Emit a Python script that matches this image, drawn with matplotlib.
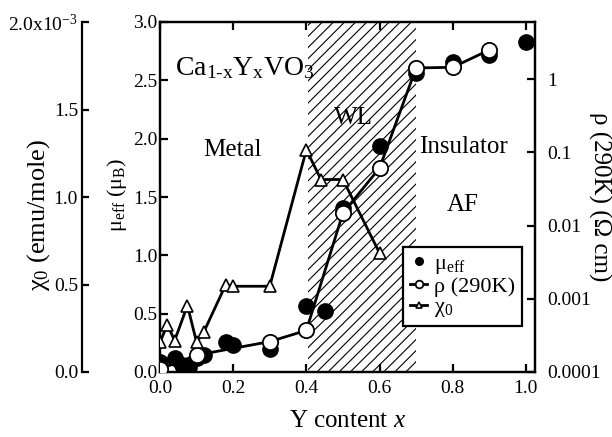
import matplotlib
matplotlib.use("Agg")
import matplotlib.pyplot as plt

# ---------------- data ----------------
# mu_eff (filled circles, left inner axis, mu_B)
mu_x = [0.0, 0.04, 0.06, 0.08, 0.10, 0.12, 0.18, 0.20, 0.30, 0.40, 0.45, 0.50, 0.60, 0.70, 0.80, 0.90, 1.00]
mu_y = [0.09, 0.12, 0.06, 0.04, 0.12, 0.15, 0.26, 0.23, 0.20, 0.57, 0.52, 1.41, 1.94, 2.56, 2.66, 2.72, 2.83]

# rho(290K) (open circles, right log axis, Ohm cm)
rho_x = [0.0, 0.10, 0.30, 0.40, 0.50, 0.60, 0.70, 0.80, 0.90]
rho_y = [1.1e-4, 1.7e-4, 2.6e-4, 3.7e-4, 0.0148, 0.061, 1.42, 1.45, 2.5]

# chi0 (open triangles, outer left axis, emu/mole)
chi_x = [0.0, 0.02, 0.04, 0.075, 0.10, 0.12, 0.18, 0.20, 0.30, 0.40, 0.44, 0.50, 0.60]
chi_y = [0.17e-3, 0.27e-3, 0.18e-3, 0.38e-3, 0.17e-3, 0.23e-3, 0.50e-3, 0.49e-3, 0.49e-3,
         1.27e-3, 1.10e-3, 1.10e-3, 0.68e-3]

WL_RANGE = (0.405, 0.70)        # hatched weakly-localized region

x_ticks = [0.0, 0.2, 0.4, 0.6, 0.8, 1.0]
mu_ticks = [0.0, 0.5, 1.0, 1.5, 2.0, 2.5, 3.0]
rho_ticks = [1e-4, 1e-3, 1e-2, 1e-1, 1]
rho_labels = ["0.0001", "0.001", "0.01", "0.1", "1"]
chi_ticks = [0.0, 0.5e-3, 1.0e-3, 1.5e-3, 2.0e-3]
chi_labels = ["0.0", "0.5", "1.0", "1.5", "2.0x10$^{-3}$"]

# ---------------- style ----------------
plt.rcParams["font.family"] = ["Liberation Serif", "DejaVu Serif"]
plt.rcParams["mathtext.fontset"] = "custom"
plt.rcParams["mathtext.rm"] = "Liberation Serif"
plt.rcParams["mathtext.it"] = "Liberation Serif:italic"
plt.rcParams["mathtext.bf"] = "Liberation Serif:bold"
plt.rcParams["hatch.linewidth"] = 0.8
LW = 1.6
TICK_FS = 14

fig = plt.figure(figsize=(6.12, 4.37), dpi=100)
ax = fig.add_axes([160 / 612, 65 / 437, 375 / 612, 350 / 437])
ax2 = ax.twinx()   # rho, log
ax3 = ax.twinx()   # chi0, outer left

ax.axvspan(*WL_RANGE, facecolor="none", edgecolor="black", hatch="///", linewidth=0, zorder=0)

h_mu, = ax.plot(mu_x, mu_y, "o", color="black", ms=11, ls="none", label="μ$_{\\rm eff}$", zorder=3)
h_rho, = ax2.plot(rho_x, rho_y, "-o", color="black", lw=2, ms=11, mfc="white", mec="black",
                  mew=1.3, label="ρ (290K)", zorder=4)
h_chi, = ax3.plot(chi_x, chi_y, "-^", color="black", lw=2, ms=8.5, mfc="white", mec="black",
                  mew=1.2, label="χ$_0$", zorder=2)

# main axis (mu_eff)
ax.set_xlim(0, 1.025)
ax.set_ylim(0, 3.0)
ax.set_xticks(x_ticks)
ax.set_xticklabels([f"{t:.1f}" for t in x_ticks])
ax.set_yticks(mu_ticks)
ax.set_yticklabels([f"{t:.1f}" for t in mu_ticks])
ax.tick_params(axis="both", direction="in", length=6, width=LW, labelsize=TICK_FS, top=True)
ax.tick_params(axis="y", pad=2, right=False)
ax.tick_params(axis="x", pad=6)
for s in ax.spines.values():
    s.set_linewidth(LW)
ax.set_xlabel("Y content $x$", fontsize=18, labelpad=9)

# rho axis
ax2.set_yscale("log")
ax2.set_ylim(1e-4, 10 ** 0.78)
ax2.set_yticks(rho_ticks)
ax2.set_yticklabels(rho_labels)
ax2.minorticks_off()
ax2.tick_params(axis="y", direction="in", length=6, width=LW, labelsize=TICK_FS, pad=9)
for s in ax2.spines.values():
    s.set_linewidth(LW)

# chi0 axis, detached to the left
ax3.set_ylim(0, 2.0e-3)
ax3.set_yticks(chi_ticks)
ax3.set_yticklabels(chi_labels)
ax3.spines["left"].set_position(("outward", 56))
ax3.spines["left"].set_visible(True)
ax3.spines["left"].set_linewidth(LW)
ax3.spines["right"].set_visible(False)
ax3.spines["top"].set_visible(False)
ax3.spines["bottom"].set_visible(False)
ax3.yaxis.set_ticks_position("left")
ax3.tick_params(axis="y", direction="in", length=5, width=LW, labelsize=TICK_FS, pad=3)

# axis titles
fig.text(39 / 612, 1 - 215 / 437, "χ$_0$ (emu/mole)", rotation=90, ha="center", va="center", fontsize=19)
fig.text(117 / 612, 1 - 195 / 437, "μ$_{\\rm eff}$ (μ$_{\\rm B}$)", rotation=90, ha="center", va="center", fontsize=16)
fig.text(600 / 612, 1 - 197 / 437, "ρ (290K) (Ω cm)", rotation=270, ha="center", va="center", fontsize=18)

# annotations
ax.text(0.04, 0.849, "Ca$_{\\rm 1\\text{-}x}$Y$_{\\rm x}$VO$_3$", transform=ax.transAxes, fontsize=20, va="baseline")
ax.text(0.192, 0.634, "Metal", transform=ax.transAxes, fontsize=18, ha="center", va="center")
ax.text(0.515, 0.726, "WL", transform=ax.transAxes, fontsize=18, ha="center", va="center")
ax.text(0.808, 0.643, "Insulator", transform=ax.transAxes, fontsize=18, ha="center", va="center")
ax.text(0.808, 0.477, "AF", transform=ax.transAxes, fontsize=18, ha="center", va="center")

leg = ax3.legend([h_mu, h_rho, h_chi], [h.get_label() for h in (h_mu, h_rho, h_chi)],
                 loc="upper left", bbox_to_anchor=(0.648, 0.357), borderaxespad=0,
                 fontsize=16, markerscale=0.5, handlelength=0.8, handletextpad=0.3,
                 labelspacing=0.0, borderpad=0.3, fancybox=False, framealpha=1,
                 edgecolor="black")
leg.get_frame().set_linewidth(LW)
leg.set_zorder(10)

fig.savefig("out.png", dpi=100)
